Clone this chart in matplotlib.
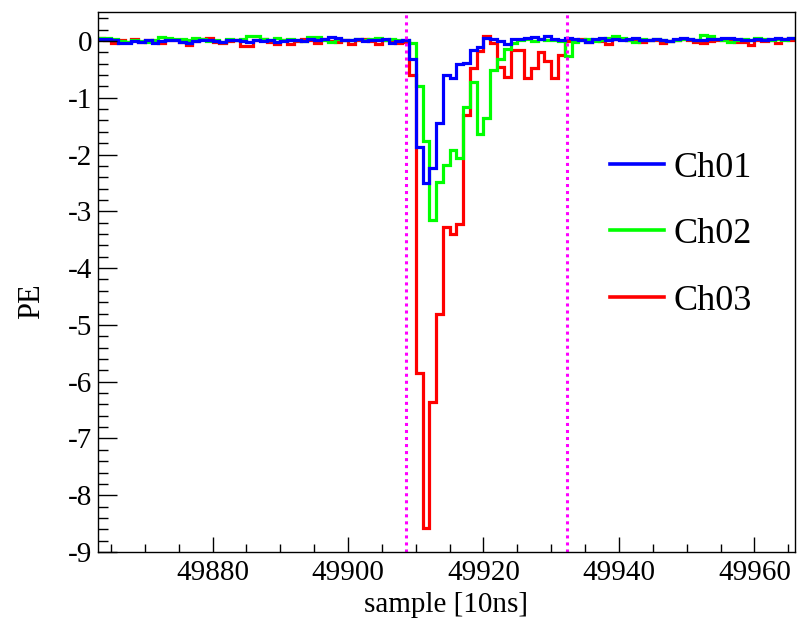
import numpy as np
import matplotlib
matplotlib.use('Agg')
import matplotlib.pyplot as plt

# bins are 1 sample wide, 49863 .. 49965
first_bin = 49863

# baseline noise before the pulse (49863 - 49907)
blue_pre = [0.03, 0.03, 0.02, -0.04, -0.04, 0.00, -0.02, 0.01, -0.03, 0.00,
            0.02, 0.01, -0.01, -0.04, 0.00, 0.02, 0.01, 0.00, -0.02, 0.01,
            0.02, 0.00, -0.01, 0.01, 0.00, 0.02, -0.01, 0.00, 0.01, 0.02,
            0.00, 0.03, 0.02, 0.04, 0.07, 0.05, 0.02, 0.01, 0.03, 0.00,
            0.02, 0.01, 0.03, -0.03, 0.00]
green_pre = [0.06, 0.05, 0.03, 0.00, -0.02, 0.01, 0.00, -0.02, 0.02, 0.07,
             0.06, 0.03, 0.04, 0.02, 0.05, 0.03, 0.00, 0.02, -0.02, 0.03,
             0.01, 0.04, 0.09, 0.08, 0.03, 0.01, 0.05, 0.01, 0.04, 0.02,
             0.00, 0.07, 0.07, 0.02, -0.02, 0.03, 0.01, 0.02, 0.04, 0.01,
             0.03, 0.06, 0.02, 0.04, 0.02]
red_pre = [0.05, 0.02, -0.03, 0.01, -0.02, 0.03, -0.01, 0.02, 0.00, -0.03,
           0.02, 0.01, -0.02, -0.07, 0.00, 0.03, 0.05, -0.02, -0.04, 0.00,
           0.02, -0.09, -0.09, 0.01, 0.03, -0.02, -0.06, 0.02, -0.06, 0.00,
           0.03, 0.01, -0.03, 0.04, 0.00, -0.02, 0.02, -0.06, 0.01, 0.03,
           0.00, -0.06, 0.02, 0.01, -0.03]

# the pulse (49908 - 49932)
blue_peak = [0.01, -0.31, -1.86, -2.50, -2.24, -1.45, -0.60, -0.65, -0.40, -0.38,
             -0.16, -0.10, 0.05, 0.03, 0.00, -0.05, 0.04, 0.03, 0.05, 0.07,
             0.04, 0.08, 0.04, 0.02, 0.05]
green_peak = [0.02, -0.04, -0.80, -1.77, -3.15, -2.48, -2.18, -1.92, -2.07, -1.16,
              -0.72, -1.64, -1.36, -0.51, -0.31, -0.14, -0.04, 0.02, 0.03, 0.00,
              0.04, 0.02, 0.01, 0.00, -0.27]
red_peak = [-0.02, -0.60, -5.85, -8.57, -6.36, -4.81, -3.27, -3.40, -3.22, -1.30,
            -0.48, -0.17, 0.08, -0.04, -0.45, -0.63, -0.16, -0.16, -0.66, -0.47,
            -0.19, -0.36, -0.66, -0.25, 0.00]

# after the pulse (49933 - 49965)
blue_post = [0.04, 0.02, -0.01, 0.03, 0.05, 0.02, 0.04, 0.01, 0.03, 0.05,
             0.02, 0.01, 0.04, 0.02, 0.00, 0.03, 0.05, 0.03, 0.01, 0.02,
             0.03, 0.04, 0.06, 0.05, 0.03, 0.02, 0.01, 0.03, 0.02, 0.04,
             0.05, 0.03, 0.06]
green_post = [-0.02, 0.01, 0.03, 0.00, 0.02, 0.06, 0.08, 0.05, 0.02, -0.02,
              0.03, 0.01, 0.04, 0.02, 0.00, 0.01, 0.03, 0.04, 0.02, 0.10,
              0.09, 0.03, 0.01, -0.01, 0.02, 0.03, 0.01, 0.05, 0.03, 0.02,
              0.04, 0.01, 0.06]
red_post = [0.01, 0.03, -0.01, 0.02, 0.00, -0.06, 0.03, 0.04, 0.01, 0.00,
            -0.02, 0.02, 0.01, -0.04, 0.00, 0.02, 0.03, 0.01, -0.01, -0.04,
            0.00, 0.02, 0.01, 0.03, -0.02, -0.02, -0.07, 0.01, 0.00, 0.02,
            -0.03, 0.04, 0.02]

# integration window
window = [49908.6, 49932.4]

channels = ['Ch01', 'Ch02', 'Ch03']
ch01 = np.array(blue_pre + blue_peak + blue_post)
ch02 = np.array(green_pre + green_peak + green_post)
ch03 = np.array(red_pre + red_peak + red_post)
edges = np.arange(first_bin, first_bin + len(ch01) + 1)

plt.rcParams['font.family'] = ['Liberation Serif', 'DejaVu Serif']
plt.rcParams['axes.unicode_minus'] = False

fig = plt.figure(figsize=(7.97, 6.2), dpi=100)
ax = fig.add_axes([97.5 / 797, 1 - 552 / 620, 697.5 / 797, 540 / 620])

lw = 2.3
h3 = ax.stairs(ch03, edges, baseline=None, color='#ff0000', lw=lw, label=channels[2])
h2 = ax.stairs(ch02, edges, baseline=None, color='#00ff00', lw=lw, label=channels[1])
h1 = ax.stairs(ch01, edges, baseline=None, color='#0000ff', lw=lw, label=channels[0])

for xw in window:
    ax.axvline(xw, color='#ff00ff', lw=2.2, ls=(0, (1, 1.3)))

ax.set_xlim(49863, 49966)
ax.set_ylim(-9, 0.51)

ax.set_xticks([49880, 49900, 49920, 49940, 49960])
ax.set_xticks(np.arange(49865, 49966, 5), minor=True)
ax.set_yticks(np.arange(-9, 1, 1))
ax.set_yticks(np.arange(-9, 0.51, 0.2), minor=True)

ax.tick_params(axis='both', which='both', direction='in', top=False, right=False,
               labelsize=21, width=1)
ax.tick_params(axis='x', which='major', length=11, pad=6)
ax.tick_params(axis='x', which='minor', length=5.5)
ax.tick_params(axis='y', which='major', length=14, pad=4)
ax.tick_params(axis='y', which='minor', length=7)
for s in ax.spines.values():
    s.set_linewidth(1)

ax.set_xlabel('sample [10ns]', fontsize=21, labelpad=4)
ax.set_ylabel('PE', fontsize=22)
ax.yaxis.set_label_coords(-0.074, 0.465)

leg = ax.legend(handles=[h1, h2, h3], loc='upper left',
                bbox_to_anchor=(0.735, 0.742), frameon=False, fontsize=26,
                handlelength=1.5, handletextpad=0.25, labelspacing=0.92,
                borderpad=0, borderaxespad=0)
for line in leg.get_lines():
    line.set_linewidth(2.6)

fig.savefig('out.png', dpi=100)
